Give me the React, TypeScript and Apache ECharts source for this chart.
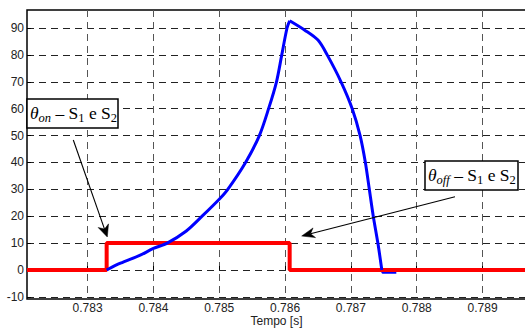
import React, { useEffect, useRef } from "react";
import * as echarts from "echarts";

const xTicks = [0.783, 0.784, 0.785, 0.786, 0.787, 0.788, 0.789];
const yTicks = [-10, 0, 10, 20, 30, 40, 50, 60, 70, 80, 90];

// blue curve, rising part (ends at the peak)
const riseX = [0.78329, 0.7835, 0.7838, 0.784, 0.78421, 0.7845, 0.78474, 0.785, 0.78513, 0.7854, 0.78561, 0.78575, 0.78587, 0.78595, 0.78603, 0.78607];
const riseY = [0, 2.5, 5.5, 8, 10, 14.5, 20, 26.3, 30, 40, 50, 60, 70, 80, 90, 92.7];
// blue curve, falling part (starts at the peak)
const fallX = [0.78607, 0.7863, 0.7865, 0.78664, 0.78685, 0.78702, 0.78714, 0.78722, 0.78728, 0.78734, 0.78741, 0.78747];
const fallY = [92.7, 89.2, 85.5, 80, 70, 60, 50, 40, 30, 20, 10, 0];
// blue curve, small tail after extinction
const tailX = [0.78747, 0.78748, 0.78769];
const tailY = [0, -1, -1];

const redX = [0.78208, 0.78329, 0.78329, 0.78607, 0.78607, 0.78966];
const redY = [0, 0, 10, 10, 0, 0];

const X_MIN = 0.78208;
const X_MAX = 0.78966;
const Y_MIN = -10.8;
const Y_MAX = 96.7;

const serif = "'Liberation Serif', 'Times New Roman', serif";
const sans = "'Liberation Sans', Arial, Helvetica, sans-serif";

function arrow(fx: number, fy: number, tx: number, ty: number, len: number, hw: number) {
  const dx = tx - fx, dy = ty - fy;
  const d = Math.sqrt(dx * dx + dy * dy);
  const ux = dx / d, uy = dy / d;
  const px = -uy, py = ux;
  const bx = tx - ux * len, by = ty - uy * len;
  const nx = tx - ux * len * 0.7, ny = ty - uy * len * 0.7;
  return [
    { type: "line", z: 100, shape: { x1: fx, y1: fy, x2: nx, y2: ny }, style: { stroke: "#000", lineWidth: 1.1 } },
    {
      type: "polygon", z: 100,
      shape: { points: [[tx, ty], [bx + px * hw, by + py * hw], [nx, ny], [bx - px * hw, by - py * hw]] },
      style: { fill: "#000", stroke: "#000", lineWidth: 0.5 },
    },
  ];
}

type Part = { t: string; sub?: boolean; italic?: boolean };
const MAIN = 17.5;
const SUB = 12.5;

function fontOf(p: Part) {
  return `${p.italic ? "italic " : ""}${p.sub ? SUB : MAIN}px ${serif}`;
}

function label(x: number, cy: number, parts: Part[]) {
  const ctx = document.createElement("canvas").getContext("2d")!;
  let cx = x;
  const out: any[] = [];
  for (const p of parts) {
    ctx.font = fontOf(p);
    const w = ctx.measureText(p.t).width;
    out.push({
      type: "text", z: 101, x: cx, y: cy + (p.sub ? 4.5 : 0),
      style: { text: p.t, font: fontOf(p), fill: "#000", verticalAlign: "middle", align: "left" },
    });
    cx += w;
  }
  return out;
}

const onParts: Part[] = [
  { t: "θ", italic: true }, { t: "on", sub: true, italic: true }, { t: " – S" }, { t: "1", sub: true }, { t: " e S" }, { t: "2", sub: true },
];
const offParts: Part[] = [
  { t: "θ", italic: true }, { t: "off", sub: true, italic: true }, { t: " – S" }, { t: "1", sub: true }, { t: " e S" }, { t: "2", sub: true },
];

export default function App() {
  const ref = useRef<HTMLDivElement>(null);
  useEffect(() => {
    if (!ref.current) return;
    const chart = echarts.init(ref.current, null, { renderer: "svg" });
    const pairs = (xs: number[], ys: number[]) => xs.map((x, i) => [x, ys[i]]);
    chart.setOption({
      animation: false,
      backgroundColor: "#fff",
      grid: {
        left: 27, top: 10, right: -1, bottom: 29, show: true, borderColor: "#000", borderWidth: 1.5,
        backgroundColor: "transparent", outerBoundsMode: "none", containLabel: false,
      },
      xAxis: {
        type: "value", min: X_MIN, max: X_MAX,
        name: "Tempo [s]", nameLocation: "middle", nameGap: 16, nameMoveOverlap: false,
        nameTextStyle: { fontFamily: sans, fontSize: 12, lineHeight: 12, color: "#222" },
        axisLine: { show: false },
        axisTick: { show: true, inside: true, length: 4, customValues: xTicks, lineStyle: { color: "#000" } },
        axisLabel: { customValues: xTicks, fontFamily: sans, fontSize: 12, lineHeight: 12, color: "#222", margin: 3, formatter: (v: number) => v.toFixed(3) },
        splitLine: { show: true, lineStyle: { type: [7, 5], color: "#555", width: 1 } },
      },
      yAxis: {
        type: "value", min: Y_MIN, max: Y_MAX,
        axisLine: { show: false },
        axisTick: { show: true, inside: true, length: 4, customValues: yTicks, lineStyle: { color: "#000" } },
        axisLabel: { customValues: yTicks, fontFamily: sans, fontSize: 12, color: "#222", margin: 3 },
        splitLine: { show: true, lineStyle: { type: [7, 5], color: "#222", width: 1 } },
      },
      series: [
        { type: "line", data: pairs(redX, redY), showSymbol: false, lineStyle: { color: "#ff0000", width: 4 }, z: 3 },
        { type: "line", data: pairs(riseX, riseY), showSymbol: false, smooth: 0.3, lineStyle: { color: "#0000ff", width: 3 }, z: 4 },
        { type: "line", data: pairs(fallX, fallY), showSymbol: false, smooth: 0.3, lineStyle: { color: "#0000ff", width: 3 }, z: 4 },
        { type: "line", data: pairs(tailX, tailY), showSymbol: false, lineStyle: { color: "#0000ff", width: 2 }, z: 2 },
      ],
      graphic: [
        { type: "rect", z: 100, shape: { x: 27, y: 99, width: 91, height: 29 }, style: { fill: "#fff", stroke: "#000", lineWidth: 1.5 } },
        ...label(30, 113, onParts),
        { type: "rect", z: 100, shape: { x: 425, y: 161, width: 93, height: 29 }, style: { fill: "#fff", stroke: "#000", lineWidth: 1.5 } },
        ...label(428, 175, offParts),
        ...arrow(73.3, 140, 107.3, 237, 12, 5.5),
        ...arrow(455, 196.7, 301.7, 236, 13, 5),
      ],
    });
    return () => chart.dispose();
  }, []);
  return <div ref={ref} style={{ position: "fixed", left: 0, top: 0, width: 525, height: 328 }} />;
}
